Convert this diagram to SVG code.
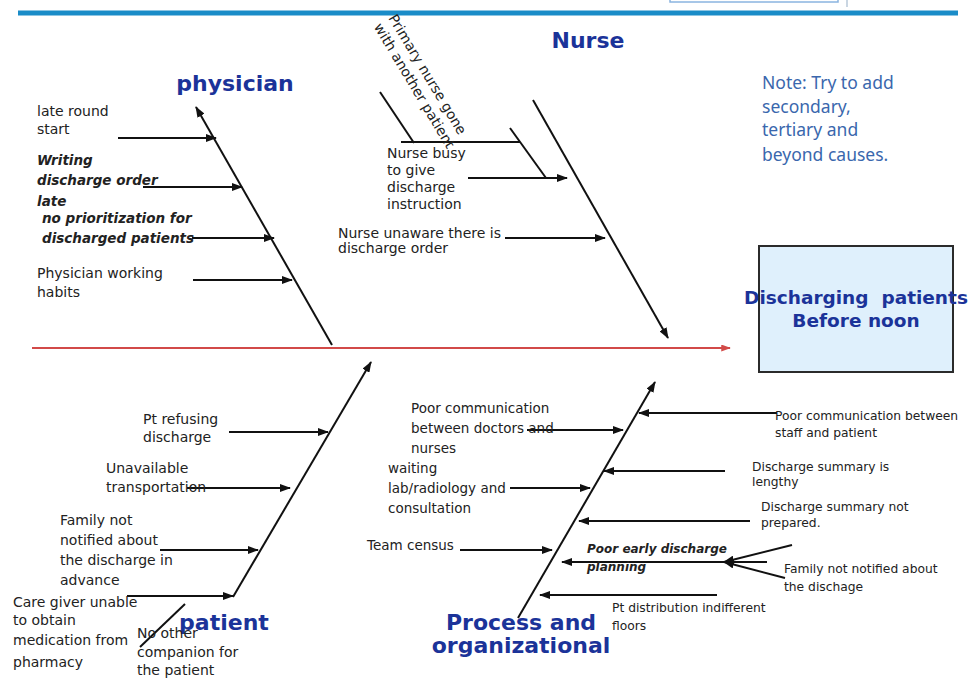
<svg xmlns="http://www.w3.org/2000/svg" width="969" height="678" viewBox="0 0 969 678">
<defs>
<style>
.t{font-family:"DejaVu Sans",sans-serif;font-size:14px;fill:#222}
.bi{font-family:"DejaVu Sans",sans-serif;font-size:13.5px;font-weight:bold;font-style:italic;fill:#222}
.m{font-family:"DejaVu Sans",sans-serif;font-size:13.5px;fill:#222}
.s{font-family:"DejaVu Sans",sans-serif;font-size:12.3px;fill:#222}
.sbi{font-family:"DejaVu Sans",sans-serif;font-size:12px;font-weight:bold;font-style:italic;fill:#222}
.cat{font-family:"DejaVu Sans",sans-serif;font-size:22px;font-weight:bold;fill:#1b3399}
.note{font-family:"Noto Sans",sans-serif;font-size:17.5px;fill:#3a67ad}
.eff{font-family:"DejaVu Sans",sans-serif;font-size:18.5px;font-weight:bold;fill:#1b3399}
.ln{stroke:#111;stroke-width:2;fill:none}
.ar{stroke:#111;stroke-width:2;fill:none;marker-end:url(#ah)}
</style>
<marker id="ah" viewBox="0 0 11 8" refX="10" refY="4" markerWidth="11" markerHeight="8" markerUnits="userSpaceOnUse" orient="auto"><path d="M0,0 L11,4 L0,8 z" fill="#111"/></marker>
<marker id="ahr" viewBox="0 0 11 8" refX="10" refY="4" markerWidth="11" markerHeight="7" markerUnits="userSpaceOnUse" orient="auto"><path d="M0,0 L11,4 L0,8 z" fill="#d24a48"/></marker>
</defs>
<rect width="969" height="678" fill="#fff"/>
<g id="header">
<line x1="18" y1="13" x2="958" y2="13" stroke="#1a8cc8" stroke-width="5"/>
<rect x="670" y="-10" width="168" height="12" fill="none" stroke="#8ab4e0" stroke-width="1.5"/>
<line x1="847" y1="0" x2="847" y2="7" stroke="#b8c8d8" stroke-width="1.5"/>
</g>
<g id="connectors">
<line x1="32" y1="348" x2="730" y2="348" stroke="#d24a48" stroke-width="2" marker-end="url(#ahr)"/>
<line class="ar" x1="332" y1="345" x2="196" y2="107"/>
<line class="ar" x1="118" y1="138" x2="216" y2="138"/>
<line class="ar" x1="143" y1="187" x2="242" y2="187"/>
<line class="ar" x1="192" y1="238" x2="274" y2="238"/>
<line class="ar" x1="193" y1="280" x2="292" y2="280"/>
<line class="ar" x1="533" y1="100" x2="668" y2="338"/>
<line class="ln" x1="380" y1="92" x2="414" y2="143"/>
<line class="ln" x1="401" y1="142" x2="520" y2="142"/>
<line class="ln" x1="510" y1="128" x2="546" y2="178"/>
<line class="ar" x1="468" y1="178" x2="567" y2="178"/>
<line class="ar" x1="505" y1="238" x2="605" y2="238"/>
<line class="ar" x1="233" y1="597" x2="371" y2="362"/>
<line class="ar" x1="229" y1="432" x2="328" y2="432"/>
<line class="ar" x1="187" y1="488" x2="290" y2="488"/>
<line class="ar" x1="160" y1="550" x2="258" y2="550"/>
<line class="ar" x1="127" y1="596" x2="233" y2="596"/>
<line class="ln" x1="140" y1="647" x2="185" y2="604"/>
<line class="ar" x1="518" y1="618" x2="655" y2="382"/>
<line class="ar" x1="527" y1="430" x2="623" y2="430"/>
<line class="ar" x1="510" y1="488" x2="590" y2="488"/>
<line class="ar" x1="460" y1="550" x2="552" y2="550"/>
<line class="ar" x1="777" y1="413" x2="639" y2="413"/>
<line class="ar" x1="725" y1="471" x2="604" y2="471"/>
<line class="ar" x1="750" y1="521" x2="579" y2="521"/>
<line class="ar" x1="767" y1="562" x2="562" y2="562"/>
<line class="ar" x1="717" y1="595" x2="540" y2="595"/>
<line class="ar" x1="792" y1="545" x2="724" y2="562"/>
<line class="ar" x1="785" y1="578" x2="724" y2="562"/>
</g>
<g id="effect">
<rect x="759" y="246" width="194" height="126" fill="#dff0fc" stroke="#2b2b2b" stroke-width="2"/>
<text class="eff" x="856" y="304" text-anchor="middle" xml:space="preserve">Discharging  patients</text>
<text class="eff" x="856" y="327" text-anchor="middle">Before noon</text>
</g>
<g id="note">
<text class="note" x="762" y="89">Note: Try to add</text>
<text class="note" x="762" y="113">secondary,</text>
<text class="note" x="762" y="136">tertiary and</text>
<text class="note" x="762" y="161">beyond causes.</text>
</g>
<g id="physician">
<text class="cat" x="235" y="91" text-anchor="middle">physician</text>
<text class="t" x="37" y="116">late round</text>
<text class="t" x="37" y="134">start</text>
<text class="bi" x="37" y="165">Writing</text>
<text class="bi" x="37" y="185">discharge order</text>
<text class="bi" x="37" y="206">late</text>
<text class="bi" x="42" y="223">no prioritization for</text>
<text class="bi" x="42" y="243">discharged patients</text>
<text class="t" x="37" y="278">Physician working</text>
<text class="t" x="37" y="297">habits</text>
</g>
<g id="nurse">
<text class="cat" x="588" y="48" text-anchor="middle">Nurse</text>
<text class="t" transform="translate(388,18) rotate(59)"><tspan x="0" y="0">Primary nurse gone</tspan><tspan x="0" y="17">with another patient</tspan></text>
<text class="t" x="387" y="158">Nurse busy</text>
<text class="t" x="387" y="175">to give</text>
<text class="t" x="387" y="192">discharge</text>
<text class="t" x="387" y="209">instruction</text>
<text class="t" x="338" y="238">Nurse unaware there is</text>
<text class="t" x="338" y="253">discharge order</text>
</g>
<g id="patient">
<text class="cat" x="224" y="630" text-anchor="middle">patient</text>
<text class="t" x="143" y="424">Pt refusing</text>
<text class="t" x="143" y="442">discharge</text>
<text class="t" x="106" y="473">Unavailable</text>
<text class="t" x="106" y="492">transportation</text>
<text class="t" x="60" y="525">Family not</text>
<text class="t" x="60" y="545">notified about</text>
<text class="t" x="60" y="565">the discharge in</text>
<text class="t" x="60" y="585">advance</text>
<text class="t" x="13" y="607">Care giver unable</text>
<text class="t" x="13" y="625">to obtain</text>
<text class="t" x="13" y="645">medication from</text>
<text class="t" x="13" y="667">pharmacy</text>
<text class="t" x="137" y="638">No other</text>
<text class="t" x="137" y="657">companion for</text>
<text class="t" x="137" y="675">the patient</text>
</g>
<g id="process">
<text class="cat" x="521" y="630" text-anchor="middle">Process and</text>
<text class="cat" x="521" y="653" text-anchor="middle">organizational</text>
<text class="m" x="411" y="413">Poor communication</text>
<text class="m" x="411" y="433">between doctors and</text>
<text class="m" x="411" y="453">nurses</text>
<text class="m" x="388" y="473">waiting</text>
<text class="m" x="388" y="493">lab/radiology and</text>
<text class="m" x="388" y="513">consultation</text>
<text class="m" x="367" y="550">Team census</text>
<text class="s" x="775" y="420">Poor communication between</text>
<text class="s" x="775" y="437">staff and patient</text>
<text class="s" x="752" y="471">Discharge summary is</text>
<text class="s" x="752" y="486">lengthy</text>
<text class="s" x="761" y="511">Discharge summary not</text>
<text class="s" x="761" y="527">prepared.</text>
<text class="sbi" x="587" y="553">Poor early discharge</text>
<text class="sbi" x="587" y="571">planning</text>
<text class="s" x="784" y="573">Family not notified about</text>
<text class="s" x="784" y="591">the dischage</text>
<text class="s" x="612" y="612">Pt distribution indifferent</text>
<text class="s" x="612" y="630">floors</text>
</g>
</svg>
